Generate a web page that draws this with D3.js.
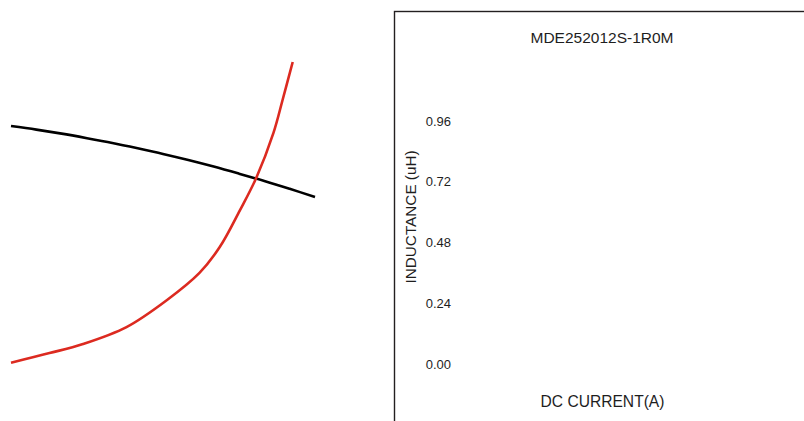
<!DOCTYPE html>
<html>
<head>
<meta charset="utf-8">
<script src="https://cdn.jsdelivr.net/npm/d3@7"></script>
<style>
  html, body { margin: 0; padding: 0; background: #fff; }
  svg { display: block; }
  text { font-family: "Liberation Sans", Arial, sans-serif; fill: #1e1e1e; }
</style>
</head>
<body>
<svg id="chart" width="804" height="421"></svg>
<script>
// ---- data ----
const title = "MDE252012S-1R0M";
const yLabel = "INDUCTANCE (uH)";
const xLabel = "DC CURRENT(A)";
const yTicks = [0.00, 0.24, 0.48, 0.72, 0.96];

const inductanceCurrent = [0, 0.25, 0.5, 0.75, 1.0, 1.25, 1.5, 1.75, 2.0, 2.25, 2.5, 2.75, 3.0];
const inductanceValues  = [0.940, 0.926, 0.910, 0.892, 0.873, 0.852, 0.830, 0.806, 0.780, 0.752, 0.723, 0.692, 0.660];

const tempCurrent = [0, 0.38, 0.71, 1.14, 1.54, 1.86, 2.06, 2.26, 2.42, 2.59, 2.68, 2.78];
const tempValues  = [0.005, 0.043, 0.079, 0.146, 0.253, 0.360, 0.462, 0.608, 0.735, 0.913, 1.043, 1.193];

// ---- drawing ----
const svg = d3.select("#chart");

const x = d3.scaleLinear().domain([0, 3]).range([11, 315]);
const y = d3.scaleLinear().domain([0, 0.96]).range([364, 121]);

// frame (extends beyond the viewport on the right and bottom)
svg.append("rect")
  .attr("x", 394.5).attr("y", 11.5)
  .attr("width", 500).attr("height", 500)
  .attr("fill", "none")
  .attr("stroke", "#231f20")
  .attr("stroke-width", 1.4);

const line = d3.line()
  .x(d => x(d[0]))
  .y(d => y(d[1]))
  .curve(d3.curveCatmullRom.alpha(0.5));

svg.append("path")
  .datum(inductanceCurrent.map((c, i) => [c, inductanceValues[i]]))
  .attr("d", line)
  .attr("fill", "none")
  .attr("stroke", "#000")
  .attr("stroke-width", 2.6);

svg.append("path")
  .datum(tempCurrent.map((c, i) => [c, tempValues[i]]))
  .attr("d", line)
  .attr("fill", "none")
  .attr("stroke", "#dc2a20")
  .attr("stroke-width", 2.6);

// y tick labels
const yAxis = d3.axisLeft(y)
  .tickValues(yTicks)
  .tickFormat(d3.format(".2f"))
  .tickSize(0)
  .tickPadding(0);

const gy = svg.append("g")
  .attr("transform", "translate(451,0)")
  .call(yAxis);
gy.select(".domain").remove();
gy.selectAll("text")
  .attr("font-family", "'Liberation Sans', Arial, sans-serif")
  .attr("font-size", 13)
  .attr("fill", "#1e1e1e");

// title
svg.append("text")
  .attr("x", 602).attr("y", 42.5)
  .attr("text-anchor", "middle")
  .attr("font-size", 15.5)
  .text(title);

// y label
svg.append("text")
  .attr("transform", "translate(416,217) rotate(-90)")
  .attr("text-anchor", "middle")
  .attr("font-size", 15.3)
  .text(yLabel);

// x label
svg.append("text")
  .attr("x", 602.5).attr("y", 407.3)
  .attr("text-anchor", "middle")
  .attr("font-size", 15.6)
  .text(xLabel);
</script>
</body>
</html>
